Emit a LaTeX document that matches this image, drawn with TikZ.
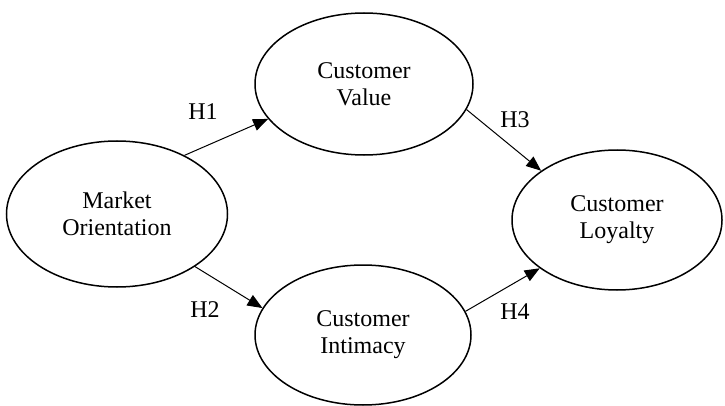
\documentclass[tikz,border=0pt]{standalone}
\usepackage{fontspec}
\setmainfont{Liberation Serif}
\usetikzlibrary{shapes.geometric,arrows.meta}
\begin{document}
\begin{tikzpicture}[x=1pt,y=1pt,
  construct/.style={draw, line width=1.5pt, ellipse, inner sep=0pt, align=center,
    font=\fontsize{24}{27}\selectfont},
  link/.style={-{Triangle[length=15pt,width=12pt]}, line width=1pt},
  hlabel/.style={font=\fontsize{24}{27}\selectfont, inner sep=0pt}]
\useasboundingbox (0,0) rectangle (725,405);
\node[construct, minimum width=221pt, minimum height=146pt] (mo) at (117,191) {Market\\Orientation};
\node[construct, minimum width=218pt, minimum height=142pt] (cv) at (364,321) {Customer\\Value};
\node[construct, minimum width=216pt, minimum height=140pt] (ci) at (363,70) {Customer\\Intimacy};
\node[construct, minimum width=210pt, minimum height=140pt] (cl) at (617,185) {Customer\\Loyalty};
\draw[link] (mo.41) -- (cv.200);
\draw[link] (mo.-34) -- (ci.165);
\draw[link] (cv.-14) -- (cl.147);
\draw[link] (ci.13) -- (cl.212);
\node[hlabel] (h1) at (203,293) {H1};
\node[hlabel] (h2) at (205,95) {H2};
\node[hlabel] (h3) at (515,285) {H3};
\node[hlabel] (h4) at (515,93) {H4};
\end{tikzpicture}
\end{document}
